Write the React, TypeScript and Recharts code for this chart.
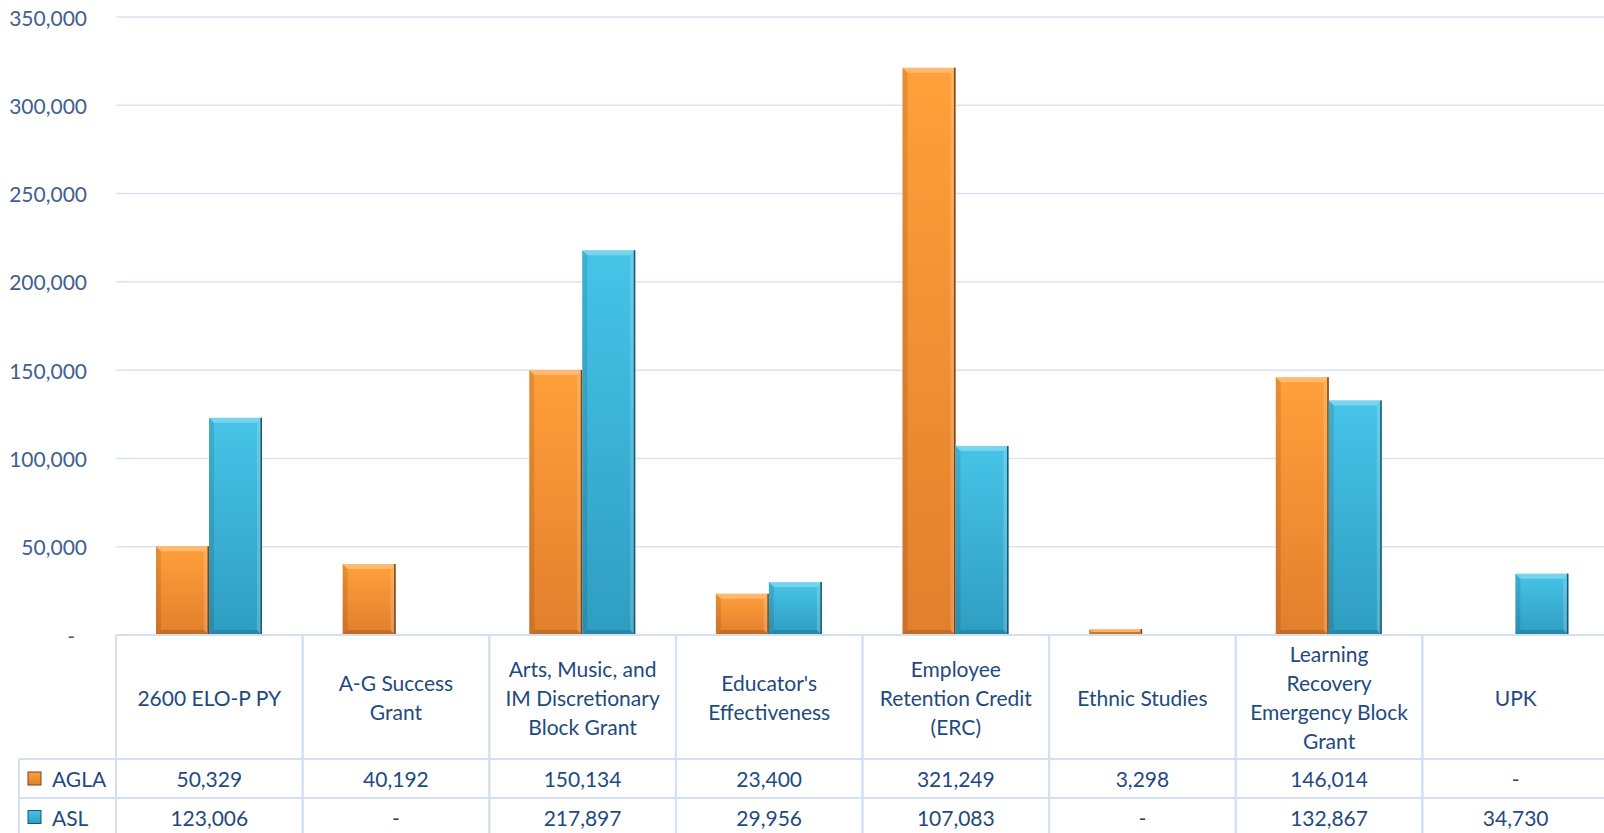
import React from "react";
import { BarChart, Bar, XAxis, YAxis, CartesianGrid } from "recharts";

// ── data ─────────────────────────────────────────────────────────────────────

const CATEGORIES = [
  "2600 ELO-P PY",
  "A-G Success Grant",
  "Arts, Music, and IM Discretionary Block Grant",
  "Educator's Effectiveness",
  "Employee Retention Credit (ERC)",
  "Ethnic Studies",
  "Learning Recovery Emergency Block Grant",
  "UPK",
];

// how each header wraps in the data table
const CATEGORY_LINES = [
  ["2600 ELO-P PY"],
  ["A-G Success", "Grant"],
  ["Arts, Music, and", "IM Discretionary", "Block Grant"],
  ["Educator's", "Effectiveness"],
  ["Employee", "Retention Credit", "(ERC)"],
  ["Ethnic Studies"],
  ["Learning", "Recovery", "Emergency Block", "Grant"],
  ["UPK"],
];

const AGLA = [50329, 40192, 150134, 23400, 321249, 3298, 146014, 0];
const ASL = [123006, 0, 217897, 29956, 107083, 0, 132867, 34730];

const SERIES_NAMES = ["AGLA", "ASL"];
const Y_TICKS = [0, 50000, 100000, 150000, 200000, 250000, 300000, 350000];

const data = CATEGORIES.map((c, i) => ({ name: c, AGLA: AGLA[i], ASL: ASL[i] }));

// ── layout ───────────────────────────────────────────────────────────────────

const W = 1604;
const H = 833;
const CHART_W = 1609; // plot runs a little past the right edge, as in the original
const PLOT_LEFT = 116;
const PLOT_TOP = 17;
const AXIS_H = 198;
const CELL_W = (CHART_W - PLOT_LEFT) / CATEGORIES.length;

const FONT = "Lato, 'Open Sans', sans-serif";
const TEXT = "#1F4A7E";
const TICK_TEXT = "#40608F";
const GRID = "#D9E3F3";
const TABLE_LINE = "#D4E0F2";

const TONES = {
  AGLA: { top: "#FFA03A", bottom: "#E27F2D", edge: "#7A4516" },
  ASL: { top: "#46C4E8", bottom: "#2F9DC2", edge: "#1B5870" },
} as const;

const fmt = (v: number) => (v ? v.toLocaleString("en-US") : "-");

// ── bevelled bar ─────────────────────────────────────────────────────────────

const BevelBar = (props: any) => {
  const { x, y, width: w, height: h, tone } = props;
  if (!h || h <= 0) return null;
  const b = Math.min(5, h / 2, w / 2);
  const c = TONES[tone as keyof typeof TONES];
  return (
    <g>
      <rect x={x} y={y} width={w} height={h} fill={`url(#grad-${tone})`} />
      <polygon
        points={`${x},${y} ${x + w},${y} ${x + w - b},${y + b} ${x + b},${y + b}`}
        fill="#fff"
        fillOpacity={0.28}
      />
      <polygon
        points={`${x},${y} ${x + b},${y + b} ${x + b},${y + h - b} ${x},${y + h}`}
        fill="#000"
        fillOpacity={0.1}
      />
      <polygon
        points={`${x + w},${y} ${x + w},${y + h} ${x + w - b},${y + h - b} ${x + w - b},${y + b}`}
        fill="#fff"
        fillOpacity={0.18}
      />
      <polygon
        points={`${x},${y + h} ${x + w},${y + h} ${x + w - b},${y + h - b} ${x + b},${y + h - b}`}
        fill="#000"
        fillOpacity={0.14}
      />
      <line x1={x + w - 0.75} y1={y} x2={x + w - 0.75} y2={y + h} stroke={c.edge} strokeWidth={1.5} />
    </g>
  );
};

// ── y ticks ──────────────────────────────────────────────────────────────────

const YTick = (props: any) => {
  const { x, y, payload } = props;
  const v = payload.value as number;
  return (
    <text
      x={v === 0 ? x - 12 : x}
      y={y}
      textAnchor="end"
      dominantBaseline="central"
      fontFamily={FONT}
      fontSize={21}
      fill={TICK_TEXT}
    >
      {fmt(v)}
    </text>
  );
};

// ── data table (drawn as the x-axis ticks) ───────────────────────────────────

const TableTick = (props: any) => {
  const { x, y, payload } = props;
  const i = payload.index as number;
  const left = x - CELL_W / 2;
  const right = x + CELL_W / 2;
  const lines = CATEGORY_LINES[i];
  const headerMid = y + 62;
  const row1 = y + 124;
  const row2 = y + 163;
  const bottom = H + 10;
  const lh = 29;

  return (
    <g fontFamily={FONT} fill={TEXT} fontSize={21}>
      <line x1={left} y1={y} x2={left} y2={bottom} stroke={TABLE_LINE} strokeWidth={2} />
      <line x1={right} y1={y} x2={right} y2={bottom} stroke={TABLE_LINE} strokeWidth={2} />
      <line x1={left} y1={row1} x2={right} y2={row1} stroke={TABLE_LINE} strokeWidth={2} />
      <line x1={left} y1={row2} x2={right} y2={row2} stroke={TABLE_LINE} strokeWidth={2} />
      {lines.map((t, k) => (
        <text
          key={k}
          x={x}
          y={headerMid - ((lines.length - 1) * lh) / 2 + k * lh}
          textAnchor="middle"
          dominantBaseline="central"
        >
          {t}
        </text>
      ))}
      <text x={x} y={(row1 + row2) / 2} textAnchor="middle" dominantBaseline="central">
        {fmt(AGLA[i])}
      </text>
      <text x={x} y={row2 + 19} textAnchor="middle" dominantBaseline="central">
        {fmt(ASL[i])}
      </text>

      {i === 0 && (
        <g>
          <line x1={19} y1={row1} x2={left} y2={row1} stroke={TABLE_LINE} strokeWidth={2} />
          <line x1={19} y1={row2} x2={left} y2={row2} stroke={TABLE_LINE} strokeWidth={2} />
          <line x1={19} y1={row1} x2={19} y2={bottom} stroke={TABLE_LINE} strokeWidth={2} />
          {SERIES_NAMES.map((s, k) => {
            const cy = k === 0 ? (row1 + row2) / 2 : row2 + 19;
            const t = TONES[s as keyof typeof TONES];
            return (
              <g key={s}>
                <rect x={28} y={cy - 6.5} width={13} height={13} fill={`url(#grad-${s})`} stroke={t.edge} strokeWidth={1} />
                <text x={52} y={cy} dominantBaseline="central">
                  {s}
                </text>
              </g>
            );
          })}
        </g>
      )}
    </g>
  );
};

export default function App() {
  return (
    <div
      style={{ position: "fixed", left: 0, top: 0, width: W, height: H, background: "#fff", overflow: "hidden" }}
    >
      <BarChart
        width={CHART_W}
        height={H}
        data={data}
        margin={{ top: PLOT_TOP, right: 0, left: 0, bottom: 0 }}
        barGap={0}
        barSize={53}
      >
        <defs>
          {SERIES_NAMES.map((s) => {
            const t = TONES[s as keyof typeof TONES];
            return (
              <linearGradient key={s} id={`grad-${s}`} x1="0" y1="0" x2="0" y2="1">
                <stop offset="0%" stopColor={t.top} />
                <stop offset="100%" stopColor={t.bottom} />
              </linearGradient>
            );
          })}
        </defs>
        <CartesianGrid vertical={false} stroke={GRID} strokeWidth={1.5} />
        <XAxis
          dataKey="name"
          height={AXIS_H}
          interval={0}
          tickLine={false}
          tickSize={0}
          tickMargin={0}
          axisLine={{ stroke: TABLE_LINE, strokeWidth: 2 }}
          tick={<TableTick />}
        />
        <YAxis
          width={PLOT_LEFT}
          domain={[0, 350000]}
          ticks={Y_TICKS}
          axisLine={false}
          tickLine={false}
          tickSize={0}
          tickMargin={29}
          tick={<YTick />}
        />
        <Bar dataKey="AGLA" isAnimationActive={false} shape={(p: any) => <BevelBar {...p} tone="AGLA" />} />
        <Bar dataKey="ASL" isAnimationActive={false} shape={(p: any) => <BevelBar {...p} tone="ASL" />} />
      </BarChart>
    </div>
  );
}
